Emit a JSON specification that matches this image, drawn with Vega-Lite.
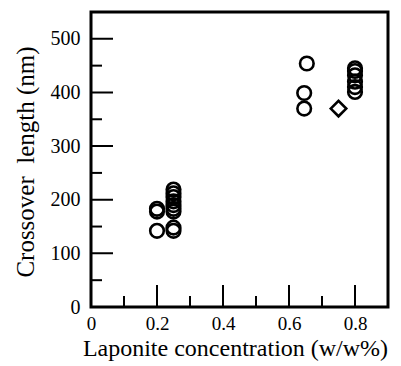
{
  "$schema": "https://vega.github.io/schema/vega-lite/v6.json",
  "width": 297,
  "height": 295,
  "autosize": {"type": "none"},
  "padding": {"left": 91, "top": 12, "right": 13, "bottom": 59},
  "background": "white",
  "config": {"view": {"stroke": "black", "strokeWidth": 3}, "font": "Liberation Serif, Times New Roman, serif"},
  "datasets": {
    "circles": [
      {"x": 0.2, "y": 183}, {"x": 0.2, "y": 178}, {"x": 0.2, "y": 142},
      {"x": 0.25, "y": 219}, {"x": 0.25, "y": 212}, {"x": 0.25, "y": 205}, {"x": 0.25, "y": 197},
      {"x": 0.25, "y": 190}, {"x": 0.25, "y": 183}, {"x": 0.25, "y": 178}, {"x": 0.25, "y": 148}, {"x": 0.25, "y": 142},
      {"x": 0.654, "y": 454}, {"x": 0.646, "y": 399}, {"x": 0.646, "y": 370},
      {"x": 0.8, "y": 445}, {"x": 0.8, "y": 440}, {"x": 0.8, "y": 432}, {"x": 0.8, "y": 420}, {"x": 0.8, "y": 410}, {"x": 0.8, "y": 401}
    ],
    "diamonds": [{"x": 0.75, "y": 370}],
    "ymajor": [{"y": 100}, {"y": 200}, {"y": 300}, {"y": 400}, {"y": 500}],
    "yminor": [{"y": 50}, {"y": 150}, {"y": 250}, {"y": 350}, {"y": 450}],
    "xmajor": [{"x": 0.2}, {"x": 0.4}, {"x": 0.6}, {"x": 0.8}],
    "xminor": [{"x": 0.1}, {"x": 0.3}, {"x": 0.5}, {"x": 0.7}]
  },
  "layer": [
    {
      "data": {"name": "circles"},
      "mark": {"type": "point", "shape": "circle", "filled": false, "stroke": "black", "strokeWidth": 2.6, "size": 185, "opacity": 1},
      "encoding": {
        "x": {
          "field": "x", "type": "quantitative",
          "scale": {"domain": [0, 0.9], "nice": false, "zero": false},
          "axis": {
            "title": "Laponite concentration (w/w%)",
            "values": [0, 0.2, 0.4, 0.6, 0.8],
            "format": "~g",
            "ticks": false, "domain": false, "grid": false,
            "labelFont": "Liberation Serif, Times New Roman, serif", "labelFontSize": 19, "labelColor": "black",
            "labelPadding": 7, "labelFlush": false, "labelOverlap": false,
            "titleFont": "Liberation Serif, Times New Roman, serif", "titleFontSize": 24, "titleFontWeight": "normal", "titleColor": "black",
            "titleX": 144, "titleY": 48, "titleBaseline": "alphabetic", "titleAlign": "center"
          }
        },
        "y": {
          "field": "y", "type": "quantitative",
          "scale": {"domain": [0, 550], "nice": false, "zero": false},
          "axis": {
            "title": "Crossover\u00a0 length (nm)",
            "values": [0, 100, 200, 300, 400, 500],
            "ticks": false, "domain": false, "grid": false,
            "labelFont": "Liberation Serif, Times New Roman, serif", "labelFontSize": 20, "labelColor": "black",
            "labelPadding": 11, "labelFlush": false, "labelOverlap": false,
            "titleFont": "Liberation Serif, Times New Roman, serif", "titleFontSize": 25, "titleFontWeight": "normal", "titleColor": "black",
            "titleX": -58, "titleY": 149.5, "titleBaseline": "alphabetic", "titleAngle": -90, "titleAlign": "center"
          }
        }
      }
    },
    {
      "data": {"name": "diamonds"},
      "mark": {"type": "point", "shape": "diamond", "filled": false, "stroke": "black", "strokeWidth": 2.6, "size": 240, "opacity": 1},
      "encoding": {
        "x": {"field": "x", "type": "quantitative"},
        "y": {"field": "y", "type": "quantitative"}
      }
    },
    {
      "data": {"name": "ymajor"},
      "mark": {"type": "tick", "orient": "horizontal", "size": 44, "thickness": 2, "color": "black", "opacity": 1, "clip": true},
      "encoding": {
        "x": {"datum": 0, "type": "quantitative"},
        "y": {"field": "y", "type": "quantitative"}
      }
    },
    {
      "data": {"name": "yminor"},
      "mark": {"type": "tick", "orient": "horizontal", "size": 22, "thickness": 2, "color": "black", "opacity": 1, "clip": true},
      "encoding": {
        "x": {"datum": 0, "type": "quantitative"},
        "y": {"field": "y", "type": "quantitative"}
      }
    },
    {
      "data": {"name": "xmajor"},
      "mark": {"type": "tick", "orient": "vertical", "size": 44, "thickness": 2, "color": "black", "opacity": 1, "clip": true},
      "encoding": {
        "x": {"field": "x", "type": "quantitative"},
        "y": {"datum": 0, "type": "quantitative"}
      }
    },
    {
      "data": {"name": "xminor"},
      "mark": {"type": "tick", "orient": "vertical", "size": 22, "thickness": 2, "color": "black", "opacity": 1, "clip": true},
      "encoding": {
        "x": {"field": "x", "type": "quantitative"},
        "y": {"datum": 0, "type": "quantitative"}
      }
    }
  ]
}
